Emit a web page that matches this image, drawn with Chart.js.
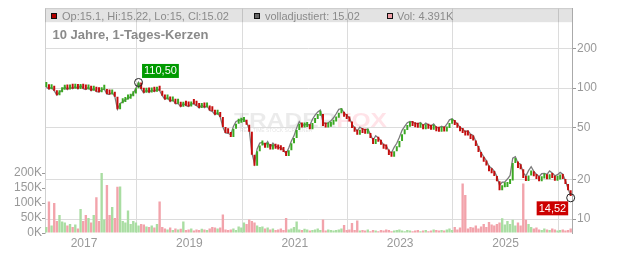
<!DOCTYPE html>
<html>
<head>
<meta charset="utf-8">
<script src="https://cdn.jsdelivr.net/npm/chart.js@4"></script>
<style>
  html, body { margin: 0; padding: 0; background: #fff; }
</style>
</head>
<body>
<canvas id="kurs" width="632" height="253"></canvas>
<script>
// ca. 10 Jahre, eine Kerze je 0.05 Jahre
const startJahr = 2016.26;
const schritt = 0.05;

const schluss = [
  101.8, 98, 101.5, 95.5, 88.4, 93, 97, 102, 97.5, 101.8,
  99, 103, 98.5, 105, 99, 97.5, 101.5, 95.5, 99.5, 94,
  93.2, 97, 98.3, 90, 89.5, 93, 86, 69, 76.5, 78.5,
  82, 83, 86.5, 91, 100, 110.5, 98.3, 92, 97, 92.5,
  97, 94, 98.8, 95.5, 87.5, 82, 85, 79, 82, 76,
  76.5, 72, 76.5, 73.5, 72.5, 76, 75.5, 73.5, 70.5, 74.5,
  71, 73.5, 67.5, 66.5, 62.5, 65, 60.1, 50.5, 45.5, 45.2,
  42.3, 49, 53.5, 54.5, 55, 56, 52.5, 46.5, 31, 25.5,
  33, 36.5, 37, 35, 37.5, 34, 36.5, 34.5, 34, 33.5,
  32.5, 30.3, 33.6, 38, 41.5, 47.8, 53.5, 50, 50.5, 51,
  48.6, 54.1, 58, 61.5, 63.5, 51.3, 50, 50.8, 52.5, 55.5,
  59.5, 64.4, 65, 60.5, 58, 55.5, 49.5, 46.5, 44, 47,
  45.5, 44.9, 45.5, 41.5, 37.4, 40.5, 39, 37, 34.5, 34,
  30.8, 29.9, 33, 35.4, 39.4, 44.5, 47.8, 50.8, 52, 51.3,
  50.2, 49.8, 51, 48.5, 50.5, 49, 48, 49.8, 46.8, 46.5,
  47.8, 46.6, 49.5, 53.5, 54.5, 52.2, 49.8, 46.9, 45.5, 43.5,
  43.4, 40.8, 39.8, 36.1, 32.5, 29.5, 27.4, 25.6, 23.2, 22.4,
  21.3, 19.4, 16.6, 17.5, 17.6, 18.5, 19.7, 26.8, 27.5, 24.5,
  24, 20.6, 19.5, 21.5, 23, 21.2, 20.2, 19.4, 20.4, 20.5,
  20.1, 21.4, 20.6, 19.6, 20, 20.8, 20.2, 18.5, 16.6, 15.02
];

const adjustiert = [
  101.8, 98, 101.5, 95.5, 88.4, 93, 97, 102, 97.5, 101.8,
  99, 103, 98.5, 105, 99, 97.5, 101.5, 95.5, 99.5, 94,
  93.2, 97, 98.3, 90, 89.5, 93, 86, 69, 76.5, 78.5,
  82, 83, 86.5, 91, 100, 110.5, 98.3, 92, 97, 92.5,
  97, 94, 98.8, 95.5, 87.5, 82, 85, 79, 82, 76,
  76.5, 72, 76.5, 73.5, 72.5, 76, 75.5, 73.5, 70.5, 74.5,
  71, 73.5, 67.5, 66.5, 62.5, 65, 60.1, 50.5, 45.5, 45.2,
  44.0, 51.0, 55.6, 56.7, 57.2, 58.2, 54.6, 48.4, 32.2, 26.5,
  34.3, 38.0, 38.5, 36.4, 39.0, 35.4, 38.0, 35.9, 35.4, 34.8,
  33.8, 31.5, 34.9, 39.5, 43.2, 49.7, 55.6, 52.0, 52.5, 53.0,
  52.0, 57.9, 62.1, 65.8, 67.9, 54.9, 53.5, 54.4, 56.2, 59.4,
  63.7, 68.9, 69.6, 64.7, 62.1, 59.4, 53.0, 49.8, 47.1, 50.3,
  48.7, 48.0, 48.7, 44.4, 40.0, 43.3, 41.7, 39.6, 36.9, 36.4,
  33.0, 32.0, 35.3, 37.9, 42.2, 47.6, 51.1, 54.4, 55.6, 54.9,
  53.7, 53.3, 54.6, 51.9, 54.0, 52.4, 51.4, 53.3, 50.1, 49.8,
  51.1, 49.9, 53.0, 57.2, 58.3, 55.9, 53.3, 50.2, 48.7, 46.5,
  47.3, 44.5, 43.4, 39.3, 35.4, 32.2, 29.9, 27.9, 25.3, 24.4,
  23.2, 21.1, 18.1, 19.1, 19.2, 20.2, 21.5, 29.2, 30.0, 26.7,
  26.2, 22.5, 21.3, 23.4, 25.1, 23.1, 22.0, 21.1, 22.2, 22.3,
  21.9, 23.3, 22.5, 21.4, 21.8, 22.7, 22.0, 19.6, 17.1, 15.02
];

// Volumen in Tausend
const volumen = [
  20, 105, 25, 100, 40, 60, 38, 35, 25, 30,
  20, 28, 15, 80, 40, 60, 50, 35, 60, 119,
  40, 200, 45, 160, 60, 87, 50, 154, 155, 40,
  35, 75, 30, 40, 35, 25, 30, 28, 22, 20,
  25, 18, 30, 105, 20, 15, 12, 18, 10, 15,
  12, 14, 38, 10, 12, 15, 8, 12, 10, 14,
  12, 10, 15, 20, 18, 15, 18, 62, 12, 10,
  12, 15, 10, 22, 18, 35, 30, 45, 40, 35,
  25, 20, 22, 15, 18, 12, 15, 10, 12, 15,
  10, 50, 12, 15, 20, 38, 12, 10, 14, 12,
  8, 10, 12, 15, 10, 45, 8, 12, 10, 8,
  10, 12, 15, 27, 10, 12, 33, 10, 42, 8,
  10, 8, 12, 6, 10, 8, 6, 10, 8, 12,
  10, 6, 8, 10, 12, 8, 6, 10, 8, 6,
  8, 10, 6, 8, 10, 6, 8, 12, 10, 8,
  10, 8, 12, 15, 10, 20, 12, 18, 165, 127,
  15, 20, 18, 25, 15, 22, 30, 20, 37, 28,
  25, 30, 35, 49, 28, 40, 30, 44, 25, 35,
  25, 165, 44, 30, 20, 15, 18, 12, 10, 15,
  12, 10, 15, 12, 8, 10, 12, 8, 10, 15
];

const jahre = [2017, 2019, 2021, 2023, 2025];
const kursTicks = [10, 20, 50, 100, 200];
const volTicks = [0, 50, 100, 150, 200];

const letzte = { op: 15.1, hi: 15.22, lo: 15, cl: 15.02, adj: 15.02, vol: "4.391K" };
const hoch = { i: 35, wert: 110.5 };
const tief = { i: 199, wert: 14.52 };

const grau = "#999";
const xWert = i => startJahr + (i + 0.5) * schritt;
const steigt = schluss.map((c, i) => c >= (i ? schluss[i - 1] : c));

Chart.defaults.font.family = "Arial, 'Liberation Sans', sans-serif";
Chart.defaults.font.size = 12;
Chart.defaults.color = grau;

const rahmen = {
  id: "rahmen",
  beforeDatasetsDraw(chart) {
    const { ctx, chartArea: a } = chart;
    ctx.save();
    // Wasserzeichen
    ctx.translate(234, 126.5);
    ctx.scale(1.17, 1);
    ctx.font = "bold 21px Arial, 'Liberation Sans', sans-serif";
    ctx.fillStyle = "rgba(0,0,0,0.08)";
    ctx.fillText("TRADER", 0, 0);
    const w = ctx.measureText("TRADER").width;
    ctx.fillStyle = "rgba(255,40,80,0.13)";
    ctx.fillText("FOX", w, 0);
    ctx.restore();
    ctx.save();
    ctx.font = "5px Arial, 'Liberation Sans', sans-serif";
    ctx.fillStyle = "rgba(0,0,0,0.12)";
    ctx.fillText("REALTIME STOCK SCREENER", 240, 132);
    // Kopfzeile
    ctx.fillStyle = "rgba(0,0,0,0.11)";
    ctx.fillRect(a.left, a.top, a.right - a.left, 14);
    ctx.strokeStyle = "#c8c8c8";
    ctx.lineWidth = 1;
    ctx.beginPath();
    ctx.moveTo(a.left, a.top + 0.5);
    ctx.lineTo(a.right, a.top + 0.5);
    ctx.stroke();
    ctx.restore();
  },
  afterDatasetsDraw(chart) {
    const { ctx } = chart;
    const x = chart.scales.x, y = chart.scales.yP;
    ctx.save();
    const kasten = (px, fill) => {
      ctx.fillStyle = fill;
      ctx.fillRect(px, 13, 6, 6);
      ctx.strokeStyle = "#111";
      ctx.strokeRect(px + 0.5, 13.5, 5, 5);
    };
    ctx.font = "11px Arial, 'Liberation Sans', sans-serif";
    kasten(51, "#b00000");
    kasten(254, "#666");
    kasten(387, "#f0a0a8");
    ctx.fillStyle = "#8a8a8a";
    ctx.textBaseline = "alphabetic";
    ctx.fillText(`Op:${letzte.op}, Hi:${letzte.hi}, Lo:${letzte.lo}, Cl:${letzte.cl}`, 62, 19.5);
    ctx.fillText(`volladjustiert: ${letzte.adj}`, 265, 19.5);
    ctx.fillText(`Vol: ${letzte.vol}`, 397, 19.5);
    ctx.font = "bold 13px Arial, 'Liberation Sans', sans-serif";
    ctx.fillText("10 Jahre, 1-Tages-Kerzen", 52.5, 38.5);

    // Hoch und Tief markieren
    const marke = (p, fill, links) => {
      const cx = x.getPixelForValue(xWert(p.i));
      const cy = y.getPixelForValue(p.wert);
      ctx.strokeStyle = "#222";
      ctx.lineWidth = 1;
      ctx.beginPath();
      ctx.arc(cx, cy, 4, 0, Math.PI * 2);
      ctx.stroke();
      const txt = p.wert.toFixed(2).replace(".", ",");
      ctx.font = "11px Arial, 'Liberation Sans', sans-serif";
      const bw = ctx.measureText(txt).width + 4, bh = 14;
      const bx = links ? cx - 2.5 - bw : cx + 3.5;
      const by = links ? cy + 3.5 : cy - 4.5 - bh;
      ctx.fillStyle = fill;
      ctx.fillRect(bx, by, bw, bh);
      ctx.fillStyle = "#fff";
      ctx.textAlign = "center";
      ctx.textBaseline = "middle";
      ctx.fillText(txt, bx + bw / 2, by + bh / 2 + 0.5);
    };
    marke(hoch, "#009a00", false);
    marke(tief, "#cc0000", true);
    ctx.restore();
  }
};

new Chart(document.getElementById("kurs"), {
  type: "bar",
  data: {
    datasets: [
      {
        type: "bar",
        label: "Kerzen",
        yAxisID: "yP",
        data: schluss.map((c, i) => ({ x: xWert(i), y: [i ? schluss[i - 1] : c, c] })),
        backgroundColor: steigt.map(u => (u ? "#3aa822" : "#c40d0d")),
        borderWidth: 0,
        barPercentage: 0.75,
        categoryPercentage: 1,
        grouped: false,
        minBarLength: 5,
        order: 1
      },
      {
        type: "line",
        label: "volladjustiert",
        yAxisID: "yP",
        data: adjustiert.map((v, i) => ({ x: xWert(i), y: v })),
        borderColor: "#7c7c7c",
        borderWidth: 1.3,
        pointRadius: 0,
        tension: 0,
        order: 2
      },
      {
        type: "bar",
        label: "Vol",
        yAxisID: "yV",
        data: volumen.map((v, i) => ({ x: xWert(i), y: v })),
        backgroundColor: steigt.map(u => (u ? "#a9dda2" : "#f2a3ab")),
        borderWidth: 0,
        barPercentage: 0.9,
        categoryPercentage: 1,
        grouped: false,
        order: 3
      }
    ]
  },
  options: {
    responsive: false,
    animation: false,
    devicePixelRatio: 1,
    layout: { padding: { top: 8, left: 0, right: 0, bottom: 0 } },
    plugins: { legend: { display: false }, tooltip: { enabled: false } },
    scales: {
      x: {
        type: "linear",
        min: startJahr,
        max: startJahr + 10,
        offset: false,
        afterBuildTicks: s => { s.ticks = jahre.map(v => ({ value: v })); },
        afterFit: s => { s.height = 20; },
        ticks: { padding: 3, maxRotation: 0, autoSkip: false, callback: v => String(v), font: { size: 12 } },
        grid: { color: "#dcdcdc", drawTicks: false },
        border: { display: false }
      },
      yP: {
        type: "logarithmic",
        position: "right",
        min: 7.82,
        max: 408,
        afterBuildTicks: s => { s.ticks = kursTicks.map(v => ({ value: v })); },
        afterFit: s => { s.width = 60; },
        ticks: { padding: 1, callback: v => String(v), font: { size: 12 } },
        grid: { color: "#dcdcdc", tickColor: "#999", tickLength: 4 },
        border: { color: "#aaa" }
      },
      yV: {
        type: "linear",
        position: "left",
        min: 0,
        max: 750,
        afterBuildTicks: s => { s.ticks = volTicks.map(v => ({ value: v })); },
        afterFit: s => { s.width = 45; },
        ticks: { padding: 0, callback: v => v + "K", font: { size: 12 } },
        grid: { drawOnChartArea: false, tickColor: "#999", tickLength: 3 },
        border: { color: "#d0d0d0" }
      }
    }
  },
  plugins: [rahmen]
});
</script>
</body>
</html>
